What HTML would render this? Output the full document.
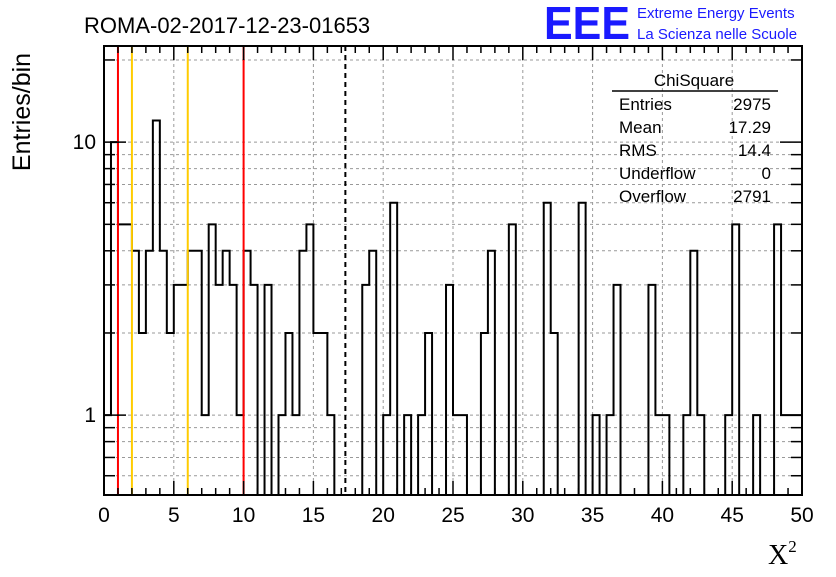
<!DOCTYPE html>
<html><head><meta charset="utf-8"><style>
body{margin:0;background:#fff;}
svg text{font-family:"Liberation Sans",sans-serif;}
</style></head><body>
<svg id="c" width="836" height="572" xmlns="http://www.w3.org/2000/svg">
<rect width="836" height="572" fill="#fff"/>
<text x="84" y="33" font-size="22">ROMA-02-2017-12-23-01653</text>
<text x="544" y="39" font-size="46" font-weight="bold" fill="#1a1aff" textLength="86" lengthAdjust="spacingAndGlyphs">EEE</text>
<text x="637" y="18" font-size="15" fill="#1a1aff">Extreme Energy Events</text>
<text x="637" y="39" font-size="15" fill="#1a1aff">La Scienza nelle Scuole</text>
<g id="grid"></g>
<g id="marks"></g>
<g id="axes"></g>
<g font-size="17">
<text x="694" y="86" text-anchor="middle">ChiSquare</text>
<line x1="612" y1="91" x2="778" y2="91" stroke="#000" stroke-width="1.5"/>
<text x="619" y="110">Entries</text><text x="771" y="110" text-anchor="end">2975</text>
<text x="619" y="133">Mean</text><text x="771" y="133" text-anchor="end">17.29</text>
<text x="619" y="156">RMS</text><text x="771" y="156" text-anchor="end">14.4</text>
<text x="619" y="179">Underflow</text><text x="771" y="179" text-anchor="end">0</text>
<text x="619" y="202">Overflow</text><text x="771" y="202" text-anchor="end">2791</text>
</g>
<text x="30" y="112" font-size="25" text-anchor="middle" transform="rotate(-90 30 112)">Entries/bin</text>
<text x="768" y="564" font-size="28" style="font-family:'Liberation Serif',serif">X<tspan font-size="17" dy="-12">2</tspan></text>
</svg>
<script>
const counts=[1,10,5,5,4,2,4,12,4,2,3,3,4,4,1,5,3,4,3,1,4,3,0,3,0,1,2,1,4,5,2,2,1,0,0,0,0,3,4,0,1,6,0,1,0,1,2,0,0,3,1,1,0,0,2,4,0,0,5,0,0,0,0,6,2,0,0,0,6,0,1,0,1,3,0,0,0,0,3,1,1,0,0,1,4,1,0,0,0,1,5,0,0,1,0,0,5,1,1,1];
const binWidth=0.5;
const xTicks=[0,5,10,15,20,25,30,35,40,45,50];
const yMajor=[1,10];
const yMinor=[0.6,0.7,0.8,0.9,2,3,4,5,6,7,8,9,20];
const redLines=[1,10];
const yellowLines=[2,6];
const meanLine=[17.29];
const L=104,R=802,T=46,B=495,ymin=0.51,ymax=22.5;
const X=v=>L+(v-0)/50*(R-L);
const Y=v=>B-(Math.log10(v)-Math.log10(ymin))/(Math.log10(ymax)-Math.log10(ymin))*(B-T);
const NS="http://www.w3.org/2000/svg";
function mk(tag,attrs,parent){const e=document.createElementNS(NS,tag);for(const k in attrs)e.setAttribute(k,attrs[k]);parent.appendChild(e);return e;}
const grid=document.getElementById('grid'),marks=document.getElementById('marks'),axes=document.getElementById('axes');
xTicks.forEach(t=>{if(t>0&&t<50){const l=mk('line',{x1:X(t),x2:X(t),y1:T,y2:B,stroke:'#999','stroke-dasharray':'3,3','stroke-width':1},grid);

}});
yMajor.concat(yMinor).forEach(v=>{const l=mk('line',{x1:L,x2:R,y1:Y(v),y2:Y(v),stroke:'#999','stroke-dasharray':'3,3','stroke-width':1},grid);

});
let d='';
counts.forEach((c,i)=>{const y=c>0?Y(c):B;const x0=X(i*binWidth),x1=X((i+1)*binWidth);d+=(i===0?`M${x0},${y}`:`V${y}`)+`H${x1}`;});
const h=mk('path',{d:d,fill:'none',stroke:'#000','stroke-width':2},marks);


redLines.forEach(v=>{const l=mk('line',{x1:X(v),x2:X(v),y1:T,y2:B,stroke:'#f00','stroke-width':2},marks);

});
yellowLines.forEach(v=>{const l=mk('line',{x1:X(v),x2:X(v),y1:T,y2:B,stroke:'#fc0','stroke-width':2},marks);

});
meanLine.forEach(v=>{const l=mk('line',{x1:X(v),x2:X(v),y1:T,y2:B,stroke:'#000','stroke-width':2,'stroke-dasharray':'5,4'},marks);

});
const f=mk('rect',{x:L,y:T,width:R-L,height:B-T,fill:'none',stroke:'#000','stroke-width':2},axes);


for(let t=0;t<=50;t++){const len=t%5===0?14:7;
mk('line',{x1:X(t),x2:X(t),y1:B,y2:B-len,stroke:'#000','stroke-width':1.5},axes);
mk('line',{x1:X(t),x2:X(t),y1:T,y2:T+len,stroke:'#000','stroke-width':1.5},axes);}
xTicks.forEach(t=>{const tx=mk('text',{x:X(t),y:522,'font-size':21,'text-anchor':'middle'},axes);tx.textContent=t;

});
yMajor.forEach(v=>{mk('line',{x1:L,x2:L+22,y1:Y(v),y2:Y(v),stroke:'#000','stroke-width':1.5},axes);
mk('line',{x1:R,x2:R-22,y1:Y(v),y2:Y(v),stroke:'#000','stroke-width':1.5},axes);
const tx=mk('text',{x:96,y:Y(v)+7,'font-size':21,'text-anchor':'end'},axes);tx.textContent=v;

});
yMinor.forEach(v=>{mk('line',{x1:L,x2:L+11,y1:Y(v),y2:Y(v),stroke:'#000','stroke-width':1.5},axes);
mk('line',{x1:R,x2:R-11,y1:Y(v),y2:Y(v),stroke:'#000','stroke-width':1.5},axes);});
</script>
</body></html>
